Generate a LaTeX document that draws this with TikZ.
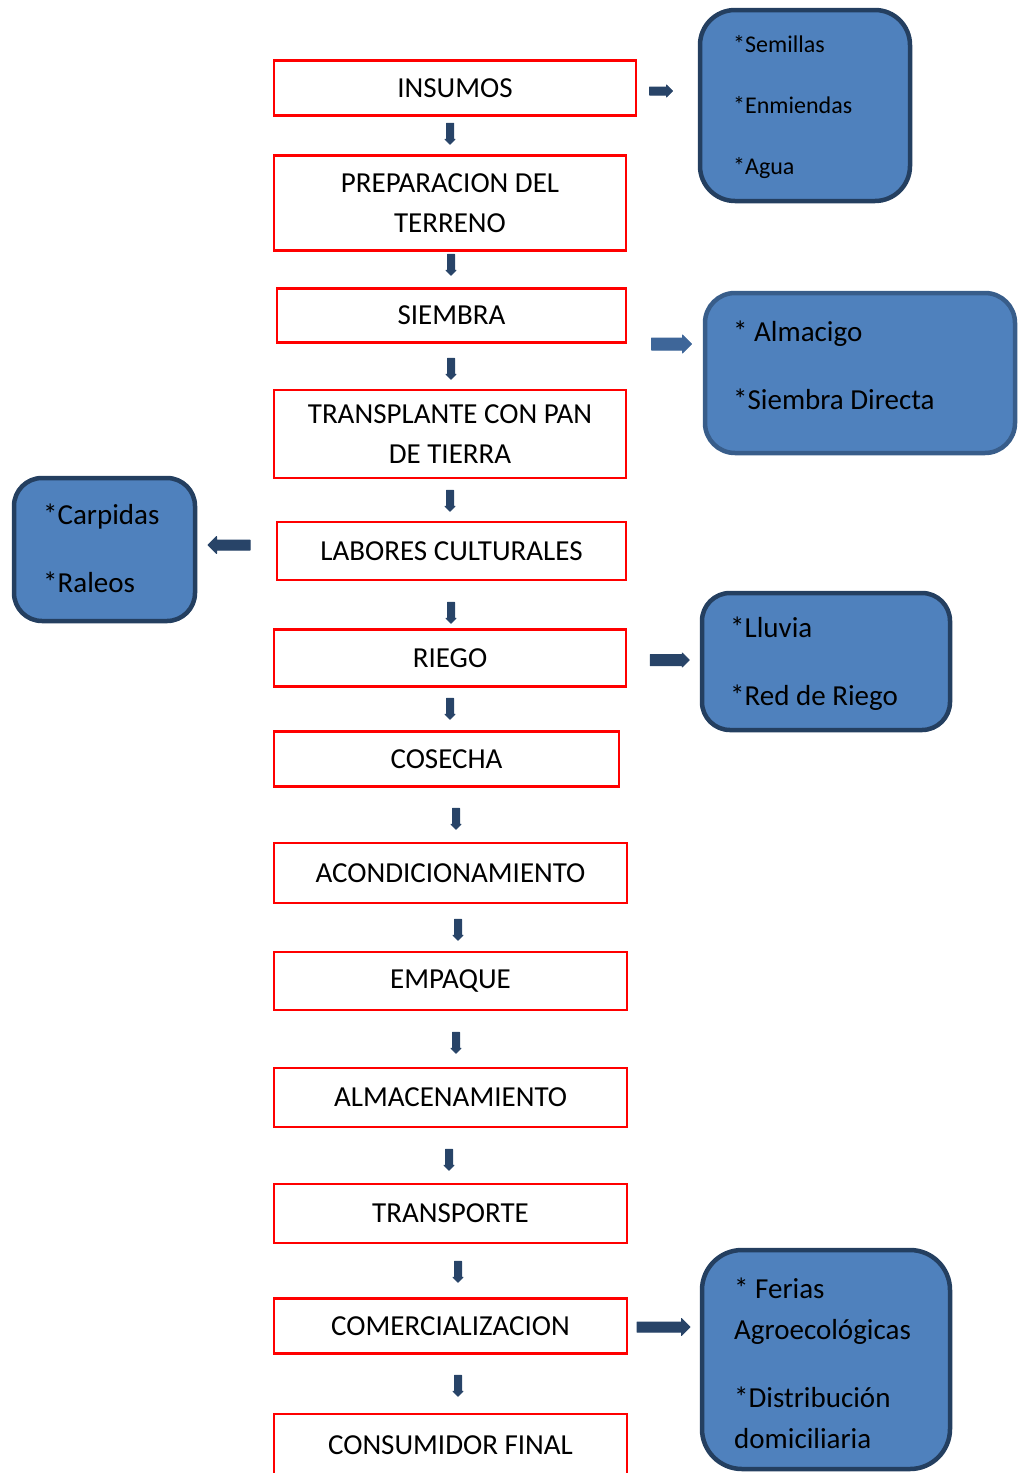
\documentclass[tikz,border=0pt]{standalone}
\usepackage{fontspec}
\setmainfont{Carlito}
\usetikzlibrary{shapes.arrows}

\definecolor{notaazul}{HTML}{4F81BD}
\definecolor{notaborde}{HTML}{243F60}
\definecolor{notabordeclaro}{HTML}{385D8A}
\definecolor{flechaoscura}{HTML}{284468}
\definecolor{flechamedia}{HTML}{3E6699}

\begin{document}
\begin{tikzpicture}[x=1pt,y=-1pt,
etapa/.style={draw=red, line width=2.5pt, inner sep=0pt, align=center, font=\fontsize{29}{40}\selectfont},
nota/.style={draw=notaborde, fill=notaazul, line width=4.5pt, rounded corners=#1},
notatexto/.style={anchor=west, align=left, inner sep=0pt},
flecha/.style n args={2}{single arrow, fill=flechaoscura, draw=flechaoscura, line width=1pt, line join=round, inner sep=#1, single arrow head extend=#2, single arrow head indent=0pt, outer sep=0pt}]
\useasboundingbox (0,0) rectangle (1018,1473);

% etapas del proceso
\node[etapa, minimum width=362pt, minimum height=55pt] (insumos) at (455,88) {INSUMOS};
\node[etapa, minimum width=352pt, minimum height=95pt] (preparacion) at (450,203) {PREPARACION DEL\\TERRENO};
\node[etapa, minimum width=349pt, minimum height=54pt] (siembra) at (451.5,315.5) {SIEMBRA};
\node[etapa, minimum width=352pt, minimum height=88pt] (transplante) at (450,434) {TRANSPLANTE CON PAN\\DE TIERRA};
\node[etapa, minimum width=349pt, minimum height=58pt] (labores) at (451.5,551) {LABORES CULTURALES};
\node[etapa, minimum width=352pt, minimum height=57pt] (riego) at (450,658) {RIEGO};
\node[etapa, minimum width=345pt, minimum height=55pt] (cosecha) at (446.5,759) {COSECHA};
\node[etapa, minimum width=353pt, minimum height=60pt] (acondicionamiento) at (450.5,873) {ACONDICIONAMIENTO};
\node[etapa, minimum width=353pt, minimum height=58pt] (empaque) at (450.5,981) {EMPAQUE};
\node[etapa, minimum width=353pt, minimum height=59pt] (almacenamiento) at (450.5,1097.5) {ALMACENAMIENTO};
\node[etapa, minimum width=353pt, minimum height=59pt] (transporte) at (450.5,1213.5) {TRANSPORTE};
\node[etapa, minimum width=353pt, minimum height=55pt] (comercializacion) at (450.5,1326) {COMERCIALIZACION};
\node[etapa, minimum width=353pt, minimum height=62pt] (consumidor) at (450.5,1445) {CONSUMIDOR FINAL};

% flechas hacia abajo
\foreach \x/\y [count=\n] in {450/132,451/263,451/367,450/499,451/611,450/707,456/817,458/928,456/1041,449/1158,458/1270,458/1384} {
\node[flecha={3pt}{1.5pt}, minimum height=21pt, rotate=-90] (baja\n) at (\x,\y) {};
}

% notas laterales
\node[nota=35pt, minimum width=210pt, minimum height=191pt] (insumosnota) at (805,105.5) {};
\node[notatexto, font=\fontsize{24}{61}\selectfont] (insumostexto) at (733,107) {*Semillas\\*Enmiendas\\*Agua};

\node[nota=30pt, draw=notabordeclaro, minimum width=310pt, minimum height=160pt] (siembranota) at (860,373) {};
\node[notatexto, font=\fontsize{29}{68}\selectfont] (siembratexto) at (733,365) {* Almacigo\\*Siembra Directa};

\node[nota=28pt, minimum width=181pt, minimum height=143pt] (laboresnota) at (104.5,549.5) {};
\node[notatexto, font=\fontsize{29}{68}\selectfont] (laborestexto) at (43,548) {*Carpidas\\*Raleos};

\node[nota=28pt, minimum width=248pt, minimum height=137pt] (riegonota) at (826,661.5) {};
\node[notatexto, font=\fontsize{29}{68}\selectfont] (riegotexto) at (730,664) {*Lluvia\\*Red de Riego};

\node[nota=40pt, minimum width=248pt, minimum height=219pt] (comercionota) at (826,1359.5) {};
\node[notatexto, font=\fontsize{29}{41}\selectfont] (comerciotexto) at (734,1363) {* Ferias\\Agroecológicas\\[27pt]*Distribución\\domiciliaria};

% flechas laterales
\node[flecha={3.5pt}{2pt}, minimum height=23pt] (lado1) at (659,91) {};
\node[flecha={5.5pt}{3pt}, fill=flechamedia, draw=flechamedia, minimum height=40pt] (lado2) at (668.5,344) {};
\node[flecha={4.5pt}{3.5pt}, minimum height=42pt, rotate=180] (lado3) at (231.5,545) {};
\node[flecha={5pt}{1.5pt}, minimum height=39pt] (lado4) at (667,660) {};
\node[flecha={4.5pt}{3.5pt}, minimum height=53pt] (lado5) at (661,1327) {};
\end{tikzpicture}
\end{document}
